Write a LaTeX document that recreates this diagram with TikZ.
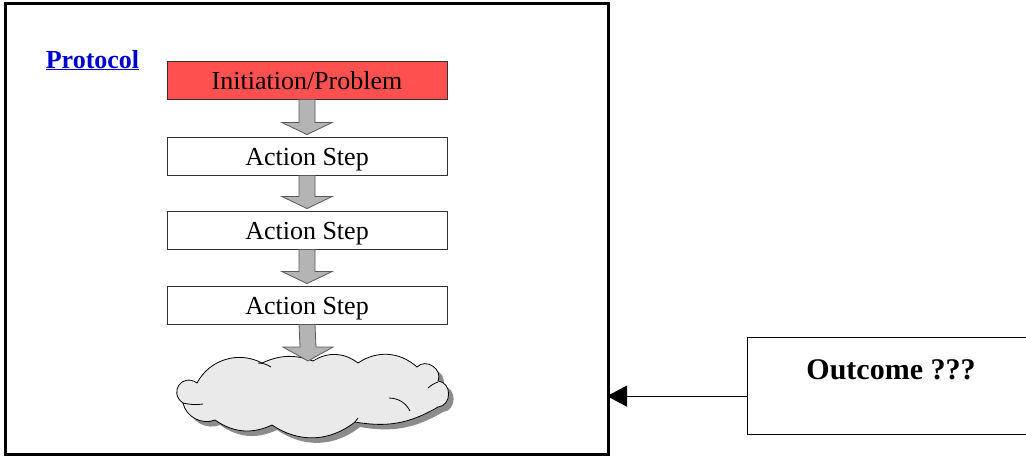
\documentclass[tikz,border=0pt]{standalone}
\usepackage{fontspec}
\setmainfont{Liberation Serif}
\usetikzlibrary{calc,arrows.meta}
\definecolor{initred}{HTML}{FF5050}
\definecolor{protoblue}{HTML}{0000CC}
\definecolor{cloudfill}{HTML}{EAEAEA}
\definecolor{shadowgray}{HTML}{8C8C8C}
\definecolor{arrowgray}{HTML}{B4B4B4}
\tikzset{
  stepbox/.style={draw=black!80, line width=0.9pt, minimum width=280pt, minimum height=38pt, inner sep=0pt, text height=18pt, text depth=0pt, font=\fontsize{26}{30}\selectfont},
  blk/.style={draw=black!65, fill=arrowgray, line width=0.8pt},
  inner/.style={line width=0.8pt},
}
\newcommand{\blockarrow}[3]{%
  \draw[blk] ($(#1.south)+(-8,0)$) -- ($(#2.north)+(-8,-#3)$) -- ($(#2.north)+(-25,-#3)$) -- ($(#2.north)+(0,-2)$) -- ($(#2.north)+(25,-#3)$) -- ($(#2.north)+(8,-#3)$) -- ($(#1.south)+(8,0)$) -- cycle;}
\newcommand{\cloudpath}{%
  (197,383) to[bend left=45] (262,363) to[bend left=22] (313,361) to[bend left=35] (358,363)
  to[bend left=38] (417,367) to[bend left=80, looseness=1.3] (438,381) to[bend left=85, looseness=1.4] (438,407)
  to[bend left=20] (355,422) to[bend left=36] (272,425) to[bend left=30] (215,420)
  to[bend left=50] (183,403) to[bend left=90, looseness=1.9] (197,383) -- cycle}
\begin{document}
\begin{tikzpicture}[x=1pt,y=-1pt]
\useasboundingbox (0,0) rectangle (1026,458);
\fill[white] (0,0) rectangle (1026,458);
% outer frame
\node[draw=black, line width=3pt, minimum width=603pt, minimum height=451pt, inner sep=0pt] (frame) at (307,229) {};
% protocol label
\node[font=\fontsize{26}{30}\selectfont\bfseries, text=protoblue, anchor=base] (proto) at (92.5,68) {\underline{Protocol}};
% steps
\node[stepbox, fill=initred] (init) at (307,80) {Initiation/Problem};
\node[stepbox, fill=white] (s1) at (307,156) {Action Step};
\node[stepbox, fill=white] (s2) at (307,230) {Action Step};
\node[stepbox, fill=white] (s3) at (307,305) {Action Step};
% cloud shadow and cloud
\fill[shadowgray, shift={(5,5)}] \cloudpath;
\draw[fill=cloudfill, draw=black, line width=0.8pt] \cloudpath;
\coordinate (cloudtop) at (308,361);
% inner puff strokes
\draw[inner] (183,403) to[bend right=10] (203,404);
\draw[inner] (258,363) to[bend left=15] (271,367);
\draw[inner] (428,388) to[bend left=10] (438,382);
\draw[inner] (389,398) to[bend left=30] (410,411);
\draw[inner] (355,422) to[bend left=10] (358,418);
% block arrows
\blockarrow{init}{s1}{14}
\blockarrow{s1}{s2}{14}
\blockarrow{s2}{s3}{14}
\draw[blk] ($(s3.south)+(-8,0)$) -- ($(cloudtop)+(-8,-14)$) -- ($(cloudtop)+(-25,-14)$) -- (cloudtop) -- ($(cloudtop)+(25,-14)$) -- ($(cloudtop)+(8,-14)$) -- ($(s3.south)+(8,0)$) -- cycle;
% outcome
\node[draw=black, line width=1.2pt, minimum width=290pt, minimum height=97pt, inner sep=0pt, anchor=north west] (outcome) at (747,337) {};
\node[font=\fontsize{30}{34}\selectfont\bfseries] (outtext) at (891,370) {Outcome ???};
\coordinate (outstart) at ($(outcome.west)+(0,10)$);
\coordinate (frameend) at (frame.east |- outstart);
\draw[line width=1.2pt, -{Triangle[length=20pt,width=21pt]}] (outstart) -- ($(frameend)+(-3,0)$);
\end{tikzpicture}
\end{document}
